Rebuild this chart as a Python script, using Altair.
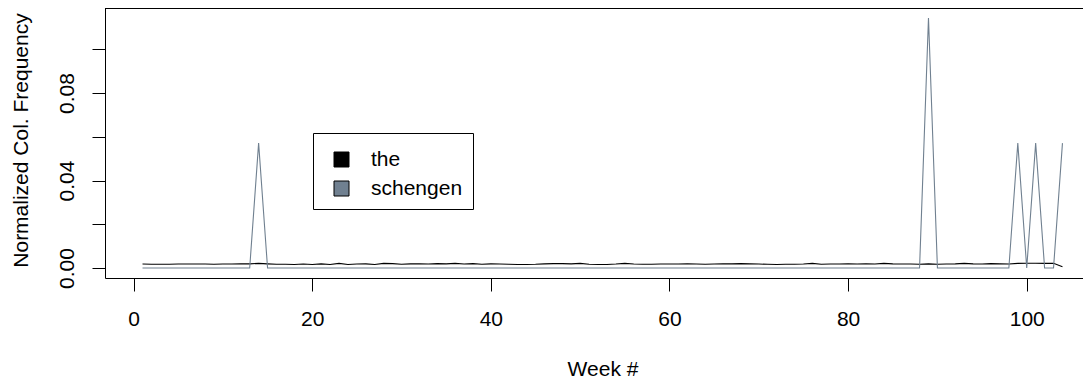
import altair as alt
import pandas as pd

weeks = list(range(1, 105))

the_freq = [
    0.0018, 0.0017, 0.0017, 0.0017, 0.0018, 0.0018, 0.0018, 0.0018, 0.0017, 0.0018,
    0.0018, 0.0019, 0.0019, 0.0021, 0.0019, 0.0017, 0.0017, 0.0016, 0.0018, 0.0016,
    0.0019, 0.0016, 0.0021, 0.0016, 0.0018, 0.0019, 0.0016, 0.0021, 0.0020, 0.0017,
    0.0019, 0.0019, 0.0018, 0.0020, 0.0019, 0.0021, 0.0018, 0.0020, 0.0017, 0.0019,
    0.0018, 0.0017, 0.0016, 0.0016, 0.0017, 0.0019, 0.0020, 0.0020, 0.0019, 0.0021,
    0.0017, 0.0016, 0.0016, 0.0018, 0.0021, 0.0018, 0.0017, 0.0017, 0.0018, 0.0018,
    0.0018, 0.0019, 0.0018, 0.0017, 0.0018, 0.0019, 0.0019, 0.0020, 0.0019, 0.0018,
    0.0017, 0.0016, 0.0017, 0.0017, 0.0018, 0.0021, 0.0017, 0.0018, 0.0018, 0.0019,
    0.0018, 0.0019, 0.0018, 0.0021, 0.0019, 0.0018, 0.0018, 0.0017, 0.0019, 0.0017,
    0.0018, 0.0019, 0.0021, 0.0019, 0.0018, 0.0020, 0.0019, 0.0018, 0.0021, 0.0022,
    0.0022, 0.0021, 0.0022, 0.0006,
]

schengen_freq = [
    0.0, 0.0, 0.0, 0.0, 0.0, 0.0, 0.0, 0.0, 0.0, 0.0,
    0.0, 0.0, 0.0, 0.0571, 0.0, 0.0, 0.0, 0.0, 0.0, 0.0,
    0.0, 0.0, 0.0, 0.0, 0.0, 0.0, 0.0, 0.0, 0.0, 0.0,
    0.0, 0.0, 0.0, 0.0, 0.0, 0.0, 0.0, 0.0, 0.0, 0.0,
    0.0, 0.0, 0.0, 0.0, 0.0, 0.0, 0.0, 0.0, 0.0, 0.0,
    0.0, 0.0, 0.0, 0.0, 0.0, 0.0, 0.0, 0.0, 0.0, 0.0,
    0.0, 0.0, 0.0, 0.0, 0.0, 0.0, 0.0, 0.0, 0.0, 0.0,
    0.0, 0.0, 0.0, 0.0, 0.0, 0.0, 0.0, 0.0, 0.0, 0.0,
    0.0, 0.0, 0.0, 0.0, 0.0, 0.0, 0.0, 0.0, 0.1143, 0.0,
    0.0, 0.0, 0.0, 0.0, 0.0, 0.0, 0.0, 0.0, 0.0571, 0.0,
    0.0571, 0.0, 0.0, 0.0571,
]

terms = ["the", "schengen"]
term_colors = ["#000000", "#708090"]
x_ticks = [0, 20, 40, 60, 80, 100]
y_ticks = [0.0, 0.02, 0.04, 0.06, 0.08, 0.10]

df = pd.concat([
    pd.DataFrame({"week": weeks, "freq": the_freq, "term": "the"}),
    pd.DataFrame({"week": weeks, "freq": schengen_freq, "term": "schengen"}),
], ignore_index=True)

FONT = "Liberation Sans"
FS = 21
W, H = 978, 270

x_enc = alt.X(
    "week:Q",
    scale=alt.Scale(domain=[-3.2, 106.3], nice=False, zero=False),
    axis=alt.Axis(
        values=x_ticks, title="Week #", format="d",
        labelBaseline="alphabetic", labelPadding=34, labelFlush=False,
        labelOverlap=False,
        titleX=497.5, titleY=97, titleAlign="center", titleBaseline="alphabetic",
    ),
)
y_enc = alt.Y(
    "freq:Q",
    scale=alt.Scale(domain=[-0.00457, 0.11887], nice=False, zero=False),
    axis=alt.Axis(
        values=y_ticks, title="Normalized Col. Frequency", format=".2f",
        labelExpr="(abs(datum.value) < 1e-9 || abs(datum.value - 0.04) < 1e-9 || abs(datum.value - 0.08) < 1e-9) ? datum.label : ''",
        labelAngle=270, labelAlign="center", labelBaseline="alphabetic",
        labelPadding=19, labelFlush=False, labelOverlap=False,
        titleAngle=270, titleX=-78, titleY=132, titleAlign="center",
        titleBaseline="alphabetic",
    ),
)

base = alt.Chart(df)

the_line = base.transform_filter(alt.datum.term == "the").mark_line(
    color="#000000", strokeWidth=1.1
).encode(x=x_enc, y=y_enc)

sch_line = base.transform_filter(alt.datum.term == "schengen").mark_line(
    color="#708090", strokeWidth=1.1
).encode(x=x_enc, y=y_enc)

legend_pts = base.mark_point(filled=True, opacity=0).encode(
    x=x_enc, y=y_enc,
    fill=alt.Fill(
        "term:N",
        scale=alt.Scale(domain=terms, range=term_colors),
        legend=alt.Legend(
            title=" ", titleFontSize=1, titlePadding=5,
            orient="none", legendX=208, legendY=125,
            symbolType="square", symbolSize=225,
            symbolStrokeColor="black", symbolStrokeWidth=1, symbolOpacity=1,
            symbolOffset=8,
            labelFont=FONT, labelFontSize=FS, labelColor="black", labelOffset=19,
            rowPadding=7, padding=10,
            strokeColor="black", fillColor="white", cornerRadius=0,
        ),
    ),
)

top_border = alt.Chart(df).mark_rule(color="black", strokeWidth=1).encode(
    x=alt.value(0), x2=alt.value(W), y=alt.value(0)
)

chart = alt.layer(top_border, the_line, sch_line, legend_pts).properties(
    width=W, height=H,
    autosize=alt.AutoSizeParams(type="none"),
    padding={"left": 97, "top": 0, "right": 0, "bottom": 100},
    background="white",
).configure_view(
    stroke=None
).configure_axis(
    labelFont=FONT, labelFontSize=FS, labelColor="black",
    titleFont=FONT, titleFontSize=FS, titleFontWeight="normal", titleColor="black",
    tickColor="black", tickSize=13, tickWidth=1,
    domainColor="black", domainWidth=1, grid=False,
)

chart.save("out.html", embed_options={"renderer": "svg", "actions": False})
